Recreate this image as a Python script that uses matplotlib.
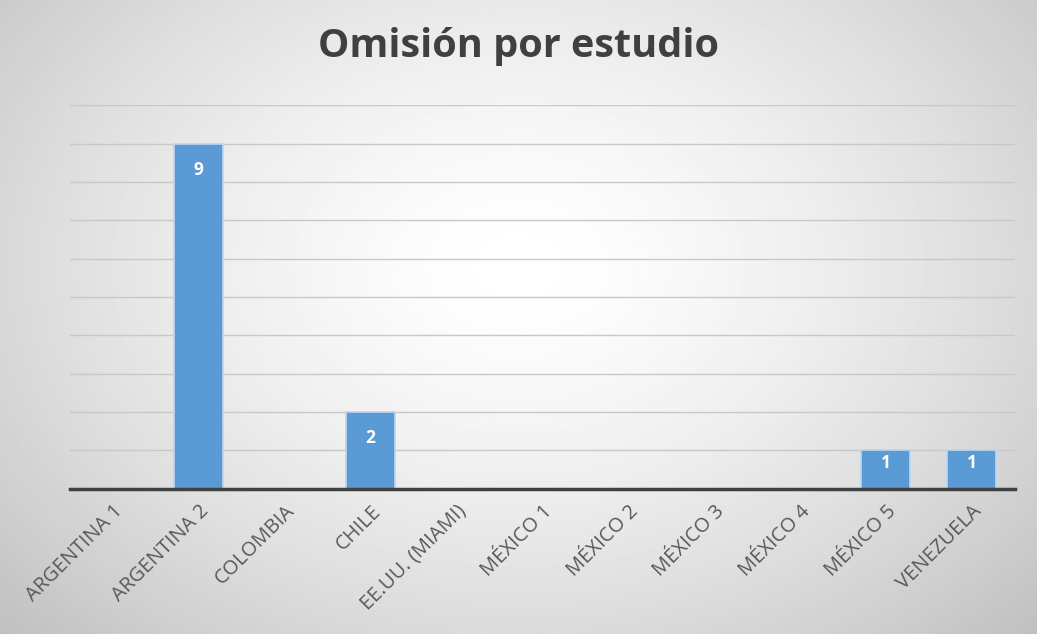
import numpy as np
import matplotlib.pyplot as plt

estudios = ["ARGENTINA 1", "ARGENTINA 2", "COLOMBIA", "CHILE", "EE.UU. (MIAMI)",
            "MÉXICO 1", "MÉXICO 2", "MÉXICO 3", "MÉXICO 4", "MÉXICO 5", "VENEZUELA"]
omisiones = [0, 9, 0, 2, 0, 0, 0, 0, 0, 1, 1]

fig = plt.figure(figsize=(10.37, 6.34), dpi=100)

# radial grey-to-white background
bg = fig.add_axes([0, 0, 1, 1], zorder=-10)
yy, xx = np.mgrid[0:1:400j, 0:1:650j]
r = np.sqrt(((xx - 0.5) / 0.62) ** 2 + ((yy - 0.42) / 0.75) ** 2)
shade = 1.0 - 0.21 * np.clip(r, 0, 1.3) ** 1.5
bg.imshow(shade, cmap="gray", vmin=0, vmax=1, aspect="auto", extent=[0, 1, 0, 1])
bg.axis("off")

ax = fig.add_axes([0.0675, 0.229, 0.911, 0.605])
ax.patch.set_alpha(0)
x = np.arange(len(estudios))
bars = ax.bar(x, omisiones, width=0.57, color="#5B9BD5", edgecolor="#BDD7EE",
              linewidth=1.2, zorder=3)

# value labels just inside the top of each bar
for b, v in zip(bars, omisiones):
    if v > 0:
        drop = min(0.68, v / 3)
        ax.text(b.get_x() + b.get_width() / 2, v - drop, str(v), ha="center",
                va="center", color="white", fontsize=12.5, fontweight="bold",
                family="Open Sans", zorder=4)

ax.set_xlim(-0.5, len(estudios) - 0.5)
ax.set_ylim(0, 10)
ax.set_yticks(range(1, 11))
ax.yaxis.grid(True, color="#c8c8c8", linewidth=1)
ax.tick_params(axis="y", left=False, labelleft=False)
ax.tick_params(axis="x", length=0, pad=9)
ax.set_xticks(x)
ax.set_xticklabels(estudios, rotation=45, ha="right", rotation_mode="anchor",
                   fontsize=14.5, color="#595959", family="Open Sans")
for side in ["top", "right", "left"]:
    ax.spines[side].set_visible(False)
ax.spines["bottom"].set_color("#404040")
ax.spines["bottom"].set_linewidth(2.5)
ax.spines["bottom"].set_zorder(5)

fig.text(0.5, 0.927, "Omisión por estudio", ha="center", va="center",
         fontsize=28.5, color="#404040", family="Open Sans", fontweight="bold")

fig.savefig("out.png", dpi=100)
